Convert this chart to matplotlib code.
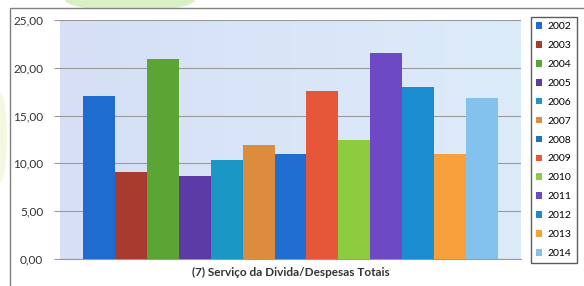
import numpy as np
import matplotlib.pyplot as plt
from matplotlib.patches import Ellipse, Rectangle
from matplotlib.colors import LinearSegmentedColormap

# Data
years = ["2002", "2003", "2004", "2005", "2006", "2007", "2008",
         "2009", "2010", "2011", "2012", "2013", "2014"]
values = [17.1, 9.1, 20.9, 8.7, 10.4, 11.9, 11.0,
          17.6, 12.5, 21.5, 18.0, 11.0, 16.8]
colors = ["#1f6cd0", "#a93a2e", "#5aa534", "#5b3ba6", "#1b97c6", "#dc8c3c", "#1f6fd2",
          "#e6573a", "#8ccc3e", "#6e49c6", "#1a8ccf", "#f7a03c", "#84c2ee"]
yticks = [0, 5, 10, 15, 20, 25]
ytick_labels = ["0,00", "5,00", "10,00", "15,00", "20,00", "25,00"]
xlabel = "(7) Serviço da Divida/Despesas Totais"

plt.rcParams["font.family"] = ["Lato", "DejaVu Sans"]

fig = plt.figure(figsize=(5.84, 2.86), dpi=100)
fig.patch.set_facecolor("white")

# faint green marks at the edges of the scan
fig.patches.append(Ellipse((130 / 584, 1.0), 130 / 584, 22 / 286, transform=fig.transFigure,
                           facecolor="#d8f0c4", edgecolor="none", zorder=0))
fig.patches.append(Ellipse((0.0, 0.52), 14 / 584, 90 / 286, transform=fig.transFigure,
                           facecolor="#f3f9e0", edgecolor="none", zorder=0))
# outer chart frame (left and top edges visible)
fig.patches.append(Rectangle((10 / 584, -0.05), 1.0, 1 - 8 / 286 + 0.05, transform=fig.transFigure,
                             facecolor="white", edgecolor="#808080", linewidth=1.0, zorder=0.5))

ax = fig.add_axes([60 / 584, 1 - 259 / 286, 461 / 584, 239 / 286])
ax.set_zorder(2)

# plot area gradient
grad = np.linspace(0, 1, 256).reshape(1, -1)
cmap = LinearSegmentedColormap.from_list("bg", ["#d6dff5", "#d9e6f8", "#dcebfa"])
ax.imshow(grad, extent=[0, 1, 0, 1], transform=ax.transAxes, cmap=cmap,
          aspect="auto", zorder=0)

x = np.arange(len(years))
ax.bar(x, values, width=1.0, color=colors, zorder=3)

ax.set_xlim(-0.5 - 0.72, len(years) - 0.5 + 0.72)
ax.set_ylim(0, 25)
ax.set_yticks(yticks)
ax.set_yticklabels(ytick_labels, fontsize=8.5, color="#333333")
ax.set_xticks([])
ax.yaxis.grid(True, color="#9a9a9a", linewidth=0.8, zorder=1)
ax.set_axisbelow(True)
ax.tick_params(axis="y", length=4, color="#9a9a9a", pad=8)
for s in ["top", "right", "left"]:
    ax.spines[s].set_visible(False)
ax.spines["bottom"].set_color("#9a9a9a")
ax.set_xlabel(xlabel, fontsize=8.5, fontweight="bold", color="#333333", labelpad=6)

handles = [Rectangle((0, 0), 1, 1, facecolor=c) for c in colors]
leg = fig.legend(handles, years, loc="upper left", bbox_to_anchor=(531 / 584, 1 - 17 / 286),
                 fontsize=7.5, frameon=True, fancybox=False, handlelength=0.6, handleheight=0.6,
                 handletextpad=0.5, labelspacing=0.95, borderpad=0.5, borderaxespad=0)
leg.get_frame().set_edgecolor("#333333")
leg.get_frame().set_linewidth(1.0)
leg.set_zorder(3)

plt.savefig("out.png", dpi=100)
